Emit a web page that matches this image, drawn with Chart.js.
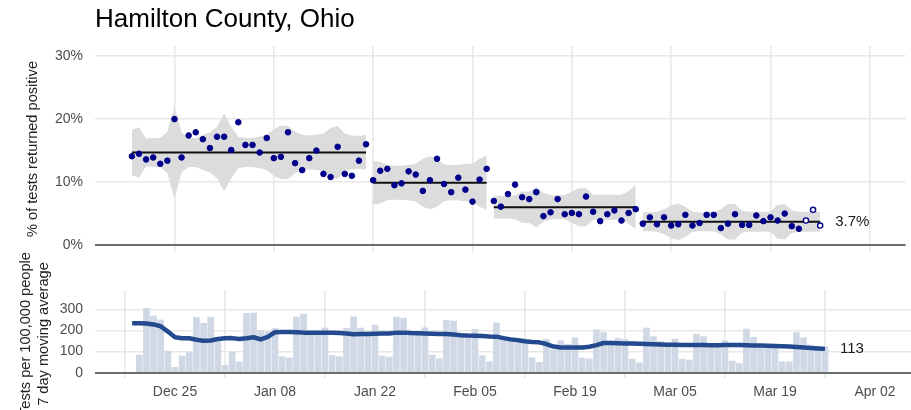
<!DOCTYPE html>
<html><head><meta charset="utf-8">
<script src="https://cdn.jsdelivr.net/npm/chart.js@4.4.1/dist/chart.umd.min.js"></script>
<style>
html,body{margin:0;padding:0;background:#fff;}
#wrap{position:relative;width:911px;height:410px;overflow:hidden;background:#fff;}
#c1{position:absolute;left:0;top:0;}
#c2{position:absolute;left:0;top:252px;}
</style></head>
<body><div id="wrap"><canvas id="c1" width="911" height="262" style="width:911px;height:262px"></canvas><canvas id="c2" width="911" height="158" style="width:911px;height:158px"></canvas></div>
<script>
// ---- DATA (day 0 = Dec 19, 2020) ----
const tickDays   = [6, 20, 34, 48, 62, 76, 90, 104];
const tickLabels = ['Dec 25','Jan 08','Jan 22','Feb 05','Feb 19','Mar 05','Mar 19','Apr 02'];
const pctTicks   = [0, 10, 20, 30];
const testTicks  = [0, 100, 200, 300];

const positivity = [
 14.1,14.5,13.6,13.9,12.9,13.4,20.0,13.9,17.4,17.9,16.8,15.4,17.2,17.2,15.1,19.5,15.9,15.9,14.7,17.0,
 13.8,14.0,17.9,13.0,11.9,13.8,15.0,11.3,10.8,15.6,11.3,11.0,13.4,16.0,
 10.3,11.8,12.1,9.5,9.8,11.7,11.2,8.6,10.3,13.7,9.7,8.4,10.7,8.8,6.9,10.4,12.1,
 7.0,6.1,8.1,9.6,7.6,7.3,8.4,4.6,5.2,7.3,4.9,5.1,4.9,7.7,5.3,3.8,4.9,5.5,3.9,5.1,5.7,
 3.4,4.4,3.3,4.4,3.1,3.3,4.8,3.1,3.5,4.8,4.8,2.7,3.4,4.9,3.2,3.2,4.7,3.8,4.4,3.9,5.0,3.0,2.6,3.9,5.6,3.1
];
const openPoints = 3; // last points drawn hollow

const bandUpper = [
 18.3,18.7,16.9,17.0,17.0,18.0,22.0,17.9,17.0,17.0,17.5,17.9,18.8,20.9,18.8,17.2,17.0,17.0,17.2,17.5,
 18.4,19.0,18.9,18.0,17.5,17.4,17.5,17.7,18.6,18.9,17.7,17.4,17.3,17.5,
 13.4,13.2,12.7,12.6,12.6,12.7,12.9,13.7,14.1,13.7,12.8,12.7,12.7,12.9,12.9,13.7,14.2,
 7.8,7.8,7.8,7.9,8.5,8.5,9.2,8.3,7.9,7.9,7.9,8.5,9.0,9.0,8.0,8.0,8.0,8.0,8.0,8.6,9.5,
 5.2,5.2,5.3,5.7,6.3,6.6,6.1,5.3,5.2,5.2,5.2,5.7,6.5,6.5,5.4,5.3,5.3,5.3,5.3,6.4,6.5,5.5,5.3,5.3,5.3,5.3
];
const bandLower = [
 11.1,10.7,12.5,12.4,12.4,11.4,7.4,11.5,12.4,12.4,11.9,11.5,10.6,8.5,10.6,12.2,12.4,12.4,12.2,11.9,
 11.0,10.4,10.5,11.4,11.9,12.0,11.9,11.7,10.8,10.5,11.7,12.0,12.1,11.9,
 6.4,6.6,7.1,7.2,7.2,7.1,6.9,6.1,5.7,6.1,7.0,7.1,7.1,6.9,6.9,6.1,5.6,
 4.2,4.2,4.2,4.1,3.5,3.5,2.8,3.7,4.1,4.1,4.1,3.5,3.0,3.0,4.0,4.0,4.0,4.0,4.0,3.4,2.5,
 2.2,2.2,2.1,1.7,1.1,0.8,1.3,2.1,2.2,2.2,2.2,1.7,0.9,0.9,2.0,2.1,2.1,2.1,2.1,1.0,0.9,1.9,2.1,2.1,2.1,2.1
];

const segStart = [0, 34, 51, 72];
const segEnd   = [33, 50, 71, 97];
const segMean  = [14.7, 9.9, 6.0, 3.7];

const dailyTests = [
 null,84,305,269,250,103,26,79,95,262,234,262,147,35,98,52,281,283,201,195,
 210,76,71,264,277,190,190,212,82,76,210,265,212,187,226,79,74,264,259,194,
 194,213,84,66,248,245,179,179,206,81,52,236,163,150,139,139,71,49,158,108,
 152,134,166,70,66,204,190,150,163,158,65,47,212,171,147,134,160,65,60,183,
 171,139,139,152,55,44,207,168,134,134,116,52,52,190,166,131,126,123
];
const movingAvg = [
 235,235,233,229,220,195,168,163,163,156,151,153,160,163,164,160,163,168,158,170,
 192,193,193,192,190,190,190,190,189,188,186,182,183,184,185,186,186,190,190,188,
 187,186,185,184,183,181,178,176,175,174,172,171,164,158,154,149,146,144,136,124,
 120,119,119,120,123,131,141,141,140,139,138,137,136,135,134,133,132,131,131,131,
 131,130,130,131,131,131,130,129,129,128,127,126,124,122,120,117,115,113
];

// ---- STYLE ----
const FONT = "'Liberation Sans', Arial, sans-serif";
Chart.defaults.font.family = FONT;
Chart.defaults.color = '#4d4d4d';
const GRID = '#e8e8e8';
const X_MIN = -5.2, X_MAX = 109.04;

function xAxis(showLabels) {
  return {
    type: 'linear', min: X_MIN, max: X_MAX, offset: false,
    afterBuildTicks: s => { s.ticks = tickDays.map(v => ({ value: v })); },
    ticks: { display: showLabels, autoSkip: false, maxRotation: 0, padding: 6,
             font: { size: 14 }, color: '#4d4d4d',
             callback: (v, i) => tickLabels[i] },
    grid: { color: GRID, lineWidth: 1.6, drawTicks: false },
    border: { display: false },
    afterFit: s => { s.height = showLabels ? 32 : 10; }
  };
}
function yGrid() {
  return {
    color: c => (c.tick && c.tick.value === 0) ? '#6b6b6b' : GRID,
    lineWidth: c => (c.tick && c.tick.value === 0) ? 2 : 1.6,
    drawTicks: true, tickLength: 11, tickColor: 'rgba(0,0,0,0)'
  };
}
const endLabel = {
  id: 'endLabel',
  afterDatasetsDraw(chart, args, opts) {
    const { ctx, scales } = chart;
    ctx.save();
    ctx.font = '15px ' + FONT;
    ctx.fillStyle = '#1a1a1a';
    ctx.textBaseline = 'middle';
    ctx.textAlign = 'left';
    ctx.fillText(opts.text, scales.x.getPixelForValue(opts.x) + 15, scales.y.getPixelForValue(opts.y));
    ctx.restore();
  }
};

// ---- TOP PANEL ----
const topSets = [];
segStart.forEach((s, k) => {
  const e = segEnd[k];
  const up = [], lo = [];
  for (let d = s; d <= e; d++) { up.push({ x: d, y: bandUpper[d] }); lo.push({ x: d, y: bandLower[d] }); }
  topSets.push({ type: 'line', data: up, borderWidth: 0, pointRadius: 0, fill: '+1',
                 backgroundColor: '#dcdcdc', borderColor: 'rgba(0,0,0,0)', order: 3 });
  topSets.push({ type: 'line', data: lo, borderWidth: 0, pointRadius: 0, fill: false,
                 borderColor: 'rgba(0,0,0,0)', order: 3 });
});
segStart.forEach((s, k) => {
  topSets.push({ type: 'line', data: [{ x: s, y: segMean[k] }, { x: segEnd[k], y: segMean[k] }],
                 borderColor: '#111', borderWidth: 2, pointRadius: 0, fill: false, order: 2 });
});
const nPts = positivity.length;
topSets.push({
  type: 'scatter', data: positivity.map((v, i) => ({ x: i, y: v })), order: 1,
  pointRadius: c => c.dataIndex >= nPts - openPoints ? 2.6 : 2.8,
  pointBorderWidth: c => c.dataIndex >= nPts - openPoints ? 1.4 : 1,
  pointBackgroundColor: c => c.dataIndex >= nPts - openPoints ? '#ffffff' : '#00008b',
  pointBorderColor: '#00008b', showLine: false
});

new Chart(document.getElementById('c1'), {
  type: 'line',
  data: { datasets: topSets },
  options: {
    responsive: false, animation: false, events: [],
    layout: { padding: { left: 0, right: 0, top: 0, bottom: 0 } },
    scales: {
      x: xAxis(false),
      y: {
        min: -1.1, max: 31.6,
        afterBuildTicks: s => { s.ticks = pctTicks.map(v => ({ value: v })); },
        ticks: { callback: v => v + '%', font: { size: 14 }, color: '#4d4d4d', padding: 1 },
        grid: yGrid(),
        border: { display: false },
        title: { display: true, text: '% of tests returned positive', font: { size: 14.6 }, color: '#222',
                 padding: { top: 24.4, bottom: 0 } },
        afterFit: s => { s.width = 95; }
      }
    },
    plugins: {
      legend: { display: false }, tooltip: { enabled: false },
      title: { display: true, text: 'Hamilton County, Ohio', align: 'start', fullSize: false,
               font: { size: 26, weight: 'normal' }, color: '#000', padding: { top: 4, bottom: 10.8 } },
      endLabel: { text: segMean[segMean.length - 1].toFixed(1) + '%', x: segEnd[segEnd.length - 1], y: segMean[segMean.length - 1] }
    }
  },
  plugins: [endLabel]
});

// ---- BOTTOM PANEL ----
const barData = [];
dailyTests.forEach((v, i) => { if (v !== null) barData.push({ x: i, y: v }); });
const lastAvg = movingAvg[movingAvg.length - 1];

new Chart(document.getElementById('c2'), {
  type: 'bar',
  data: {
    datasets: [
      { type: 'line', data: movingAvg.map((v, i) => ({ x: i, y: v })), borderColor: '#234a8e',
        borderWidth: 4.5, pointRadius: 0, tension: 0, fill: false, order: 1, borderJoinStyle: 'round' },
      { type: 'bar', data: barData, backgroundColor: '#d0d8e6', barThickness: 6, order: 2 }
    ]
  },
  options: {
    responsive: false, animation: false, events: [],
    layout: { padding: { left: 0, right: 0, top: 38, bottom: 0 } },
    scales: {
      x: xAxis(true),
      y: {
        min: -25, max: 392,
        afterBuildTicks: s => { s.ticks = testTicks.map(v => ({ value: v })); },
        ticks: { callback: v => String(v), font: { size: 14 }, color: '#4d4d4d', padding: 1 },
        grid: yGrid(),
        border: { display: false },
        title: { display: true, text: ['Tests per 100,000 people', '7 day moving average'],
                 font: { size: 14.6, lineHeight: 1.28 }, color: '#222', padding: { top: 16.4, bottom: 0 } },
        afterFit: s => { s.width = 95; }
      }
    },
    plugins: {
      legend: { display: false }, tooltip: { enabled: false },
      endLabel: { text: String(lastAvg), x: movingAvg.length - 1, y: lastAvg }
    }
  },
  plugins: [endLabel]
});
</script>
</body></html>
